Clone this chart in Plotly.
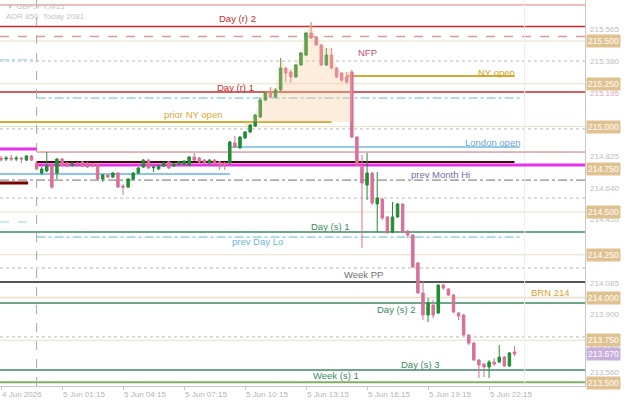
import plotly.graph_objects as go
from datetime import datetime, timedelta

# ---------------- data ----------------
start_time = datetime(2026, 6, 4, 22, 15)

opens = [214.816, 214.810, 214.816, 214.810, 214.816, 214.804, 214.828, 214.787, 214.728, 214.740,
         214.775, 214.728, 214.810, 214.787, 214.775, 214.787, 214.793, 214.787, 214.781, 214.775,
         214.693, 214.717, 214.705, 214.728, 214.652, 214.646, 214.693, 214.728, 214.763, 214.804,
         214.758, 214.752, 214.769, 214.793, 214.769, 214.781, 214.781, 214.775, 214.822, 214.816,
         214.804, 214.787, 214.804, 214.793, 214.787, 214.787, 214.904, 214.875, 214.933, 214.968,
         215.003, 215.056, 215.155, 215.196, 215.173, 215.214, 215.342, 215.319, 215.290, 215.360,
         215.418, 215.547, 215.524, 215.477, 215.360, 215.418, 215.342, 215.313, 215.290, 215.319,
         214.939, 214.763, 214.658, 214.728, 214.547, 214.576, 214.471, 214.383, 214.471, 214.547,
         214.389, 214.366, 214.202, 214.027, 213.898, 213.956, 213.910, 214.073, 214.050, 214.015,
         213.910, 213.898, 213.781, 213.734, 213.635, 213.611, 213.594, 213.623, 213.623, 213.652,
         213.600, 213.682]
closes = [214.804, 214.816, 214.810, 214.816, 214.810, 214.828, 214.804, 214.752, 214.752, 214.769,
          214.646, 214.810, 214.775, 214.769, 214.781, 214.781, 214.769, 214.763, 214.769, 214.693,
          214.717, 214.705, 214.728, 214.646, 214.646, 214.693, 214.728, 214.758, 214.804, 214.758,
          214.763, 214.769, 214.787, 214.758, 214.781, 214.793, 214.798, 214.822, 214.804, 214.793,
          214.787, 214.804, 214.781, 214.769, 214.775, 214.910, 214.880, 214.939, 214.968, 215.009,
          215.067, 215.155, 215.196, 215.173, 215.214, 215.342, 215.313, 215.290, 215.360, 215.430,
          215.547, 215.518, 215.477, 215.360, 215.418, 215.342, 215.290, 215.272, 215.260, 214.939,
          214.775, 214.670, 214.728, 214.553, 214.582, 214.465, 214.383, 214.471, 214.547, 214.383,
          214.366, 214.179, 214.027, 213.898, 213.968, 213.898, 214.073, 214.056, 214.015, 213.915,
          213.892, 213.781, 213.734, 213.635, 213.606, 213.594, 213.623, 213.611, 213.652, 213.600,
          213.676, 213.670]
highs = [214.828, 214.828, 214.834, 214.828, 214.822, 214.834, 214.834, 214.798, 214.763, 214.851,
         214.787, 214.816, 214.816, 214.793, 214.793, 214.793, 214.798, 214.793, 214.787, 214.781,
         214.722, 214.722, 214.734, 214.734, 214.664, 214.699, 214.734, 214.763, 214.810, 214.810,
         214.769, 214.775, 214.793, 214.798, 214.787, 214.798, 214.804, 214.828, 214.845, 214.822,
         214.810, 214.810, 214.810, 214.798, 214.793, 214.915, 214.945, 214.945, 214.974, 215.015,
         215.073, 215.167, 215.202, 215.231, 215.225, 215.401, 215.348, 215.331, 215.366, 215.436,
         215.553, 215.611, 215.529, 215.483, 215.459, 215.459, 215.348, 215.319, 215.319, 215.331,
         214.945, 214.834, 214.845, 214.734, 214.734, 214.582, 214.477, 214.559, 214.553, 214.553,
         214.395, 214.372, 214.208, 214.097, 213.997, 213.986, 214.079, 214.079, 214.056, 214.021,
         213.915, 213.904, 213.787, 213.740, 213.641, 213.617, 213.635, 213.646, 213.722, 213.658,
         213.682, 213.717]
lows = [214.798, 214.798, 214.798, 214.798, 214.787, 214.798, 214.798, 214.746, 214.717, 214.734,
        214.635, 214.693, 214.769, 214.763, 214.763, 214.775, 214.763, 214.758, 214.763, 214.687,
        214.676, 214.699, 214.699, 214.641, 214.600, 214.641, 214.687, 214.722, 214.758, 214.752,
        214.734, 214.746, 214.763, 214.752, 214.763, 214.775, 214.775, 214.769, 214.798, 214.787,
        214.781, 214.781, 214.775, 214.746, 214.746, 214.781, 214.875, 214.869, 214.927, 214.962,
        214.997, 215.050, 215.149, 215.167, 215.167, 215.208, 215.260, 215.255, 215.284, 215.354,
        215.413, 215.512, 215.471, 215.354, 215.354, 215.336, 215.284, 215.260, 215.249, 214.933,
        214.769, 214.290, 214.570, 214.541, 214.383, 214.453, 214.372, 214.377, 214.465, 214.377,
        214.348, 214.173, 214.021, 213.869, 213.857, 213.880, 213.904, 214.044, 214.009, 213.910,
        213.869, 213.775, 213.722, 213.629, 213.530, 213.535, 213.530, 213.600, 213.617, 213.594,
        213.594, 213.658]

times = [start_time + timedelta(minutes=15 * i) for i in range(len(opens))]

# horizontal levels (name, price)
level_names = ["Day (r) 3", "Day (r) 2", "prev Week Hi", "215.500", "dotted 1", "left cyan 1",
               "NY open", "215.250", "Day (r) 1", "prev Day Hi", "prior NY open", "215.000",
               "dotted 2", "London open", "left magenta", "red thin", "maroon", "magenta",
               "left blue", "prev Month Hi", "left maroon", "dotted 3", "214.500", "left cyan 2",
               "Day (s) 1", "prev Day Lo", "214.250", "dotted 4", "Week PP", "BRN 214",
               "Day (s) 2", "dotted 5", "213.750", "Day (s) 3", "Week (s) 1"]
level_prices = [215.711, 215.585, 215.527, 215.500, 215.383, 215.390,
                215.296, 215.250, 215.202, 215.167, 215.026, 215.000,
                214.986, 214.880, 214.869, 214.851, 214.793, 214.775,
                214.722, 214.687, 214.670, 214.582, 214.500, 214.442,
                214.383, 214.354, 214.250, 214.173, 214.091, 214.000,
                213.968, 213.770, 213.750, 213.576, 213.505]

# right axis labels
plain_axis_values = [215.565, 215.380, 215.195, 214.825, 214.640, 214.455, 214.270,
                     214.085, 213.900, 213.720, 213.560]
box_axis_values = [215.500, 215.250, 215.000, 214.750, 214.500, 214.250, 214.000, 213.750, 213.500]
current_price = 213.670

# x axis ticks
tick_times = ["2026-06-04 22:15", "2026-06-05 01:15", "2026-06-05 04:15", "2026-06-05 07:15",
              "2026-06-05 10:15", "2026-06-05 13:15", "2026-06-05 16:15", "2026-06-05 19:15",
              "2026-06-05 22:15"]
tick_labels = ["4 Jun 2026", "5 Jun 01:15", "5 Jun 04:15", "5 Jun 07:15", "5 Jun 10:15",
               "5 Jun 13:15", "5 Jun 16:15", "5 Jun 19:15", "5 Jun 22:15"]

# ---------------- styles ----------------
X_START = "2026-06-04 22:12"
X_END = "2026-06-06 02:58"
D0 = "2026-06-05 00:00"
# color, width, dash, x0, x1  (None => plot edge)
level_styles = {
    "Day (r) 3": ("#e07a7a", 1, "solid", None, None),
    "Day (r) 2": ("#cc2a2a", 1.5, "solid", None, None),
    "prev Week Hi": ("#d99a9a", 1.5, "dash", None, None),
    "215.500": ("#eadfc6", 1, "solid", None, None),
    "dotted 1": ("#b8b8b8", 1, "dot", None, None),
    "left cyan 1": ("#8fd3e6", 1, "dashdot", None, D0),
    "NY open": ("#d4aa35", 2, "solid", "2026-06-05 15:15", "2026-06-05 23:30"),
    "215.250": ("#eadfc6", 1, "solid", None, None),
    "Day (r) 1": ("#cc2a2a", 1.5, "solid", None, None),
    "prev Day Hi": ("#63b8c8", 1, "dashdot", D0, "2026-06-05 23:45"),
    "prior NY open": ("#d4aa35", 2, "solid", None, "2026-06-05 14:30"),
    "215.000": ("#eadfc6", 1, "solid", None, None),
    "dotted 2": ("#b8b8b8", 1, "dot", None, None),
    "London open": ("#93cbe8", 2, "solid", "2026-06-05 09:30", "2026-06-05 23:45"),
    "left magenta": ("#e633e6", 3, "solid", None, D0),
    "red thin": ("#d26a6a", 1, "solid", D0, None),
    "maroon": ("#4a0808", 2, "solid", D0, "2026-06-05 23:30"),
    "magenta": ("#e633e6", 3, "solid", D0, None),
    "left blue": ("#8cc6e6", 2, "solid", None, "2026-06-05 09:30"),
    "prev Month Hi": ("#707070", 1, "dashdot", None, None),
    "left maroon": ("#7a0000", 3, "solid", None, "2026-06-04 23:35"),
    "dotted 3": ("#b8b8b8", 1, "dot", None, None),
    "214.500": ("#eadfc6", 1, "solid", None, None),
    "left cyan 2": ("#8fd3e6", 1, "dash", None, D0),
    "Day (s) 1": ("#3a8a62", 1.5, "solid", None, None),
    "prev Day Lo": ("#63b8c8", 1, "dashdot", D0, "2026-06-05 23:45"),
    "214.250": ("#eadfc6", 1, "solid", None, None),
    "dotted 4": ("#b8b8b8", 1, "dot", None, None),
    "Week PP": ("#555555", 2, "solid", None, None),
    "BRN 214": ("#eadfc6", 1.5, "solid", None, None),
    "Day (s) 2": ("#3a8a62", 1.5, "solid", None, None),
    "dotted 5": ("#b8b8b8", 1, "dot", None, None),
    "213.750": ("#eadfc6", 1, "solid", None, None),
    "Day (s) 3": ("#3a8a62", 1.5, "solid", None, None),
    "Week (s) 1": ("#7fb060", 2, "solid", None, None),
}

PLOT_W, PLOT_H = 585, 386
FONT = "Liberation Sans, Arial, sans-serif"

fig = go.Figure()

# NFP shaded area (under candle highs of the rally)
fill_x = times[48:70] + [times[69], times[48]]
fill_y = highs[48:70] + [215.026, 215.026]
fig.add_trace(go.Scatter(x=fill_x, y=fill_y, fill="toself", mode="lines",
                         line=dict(width=0), fillcolor="rgba(250,200,150,0.32)",
                         hoverinfo="skip", showlegend=False))

fig.add_trace(go.Candlestick(
    x=times, open=opens, high=highs, low=lows, close=closes,
    increasing=dict(line=dict(color="#1e8f34", width=1), fillcolor="#1e8f34"),
    decreasing=dict(line=dict(color="#d8709a", width=1), fillcolor="#d8709a"),
    whiskerwidth=0, showlegend=False))

shapes = []
for name, price in zip(level_names, level_prices):
    color, width, dash, x0, x1 = level_styles[name]
    if x0 is None and x1 is None:
        shapes.append(dict(type="line", xref="paper", yref="y", x0=0, x1=1, y0=price, y1=price,
                           line=dict(color=color, width=width, dash=dash), layer="below"))
    else:
        shapes.append(dict(type="line", xref="x", yref="y",
                           x0=x0 if x0 else X_START, x1=x1 if x1 else X_END,
                           y0=price, y1=price,
                           line=dict(color=color, width=width, dash=dash), layer="below"))

# day separators
shapes.append(dict(type="line", xref="x", yref="paper", x0=D0, x1=D0, y0=0, y1=1,
                   line=dict(color="#a8a8a8", width=1, dash="dash"), layer="below"))
shapes.append(dict(type="line", xref="x", yref="paper", x0="2026-06-06 00:00", x1="2026-06-06 00:00",
                   y0=0, y1=1, line=dict(color="#ececec", width=1), layer="below"))

annotations = []
# in-chart labels: text, x px, y px, color
chart_labels = [
    ("Day (r) 2", 237, 19, "#cc2a2a"),
    ("NFP", 367, 52, "#c0507a"),
    ("NY open", 496, 72, "#d4a020"),
    ("Day (r) 1", 235, 87, "#cc2a2a"),
    ("prior NY open", 193, 115, "#d4aa35"),
    ("London open", 492, 142, "#6aa6d6"),
    ("prev Month Hi", 440, 174, "#7070a8"),
    ("Day (s) 1", 330, 226, "#3a8a62"),
    ("prev Day Lo", 257, 241, "#6ab8dc"),
    ("Week PP", 363, 274, "#707070"),
    ("BRN 214", 550, 292, "#e0a030"),
    ("Day (s) 2", 396, 309, "#3a8a62"),
    ("Day (s) 3", 420, 364, "#3a8a62"),
    ("Week (s) 1", 336, 375, "#3a8a62"),
]
for text, px, py, color in chart_labels:
    annotations.append(dict(text=text, xref="paper", yref="paper", x=px / PLOT_W, y=1 - py / PLOT_H,
                            xanchor="center", yanchor="middle", showarrow=False,
                            font=dict(family=FONT, size=9.5, color=color)))

# header text
annotations.append(dict(text="▼ GBPJPY,M15", xref="paper", yref="paper", x=4 / PLOT_W, y=1 - 6 / PLOT_H,
                        xanchor="left", yanchor="middle", showarrow=False,
                        font=dict(family=FONT, size=8, color="#c4c4c4")))
annotations.append(dict(text="ADR 850  Today 2081", xref="paper", yref="paper", x=4 / PLOT_W,
                        y=1 - 16 / PLOT_H, xanchor="left", yanchor="middle", showarrow=False,
                        font=dict(family=FONT, size=8, color="#c4c4c4")))

# right axis labels
for v in plain_axis_values:
    col = "#d8a8c8" if abs(v - 215.195) < 1e-6 else "#bdbdbd"
    annotations.append(dict(text=f"{v:.3f}", xref="paper", yref="y", x=1, y=v, xanchor="left",
                            yanchor="middle", xshift=3, showarrow=False,
                            font=dict(family=FONT, size=8, color=col)))
for v in box_axis_values:
    annotations.append(dict(text=f"{v:.3f}", xref="paper", yref="y", x=1, y=v, xanchor="left",
                            yanchor="middle", xshift=1, showarrow=False, bgcolor="#dfc290",
                            borderpad=1, font=dict(family=FONT, size=8.5, color="#ffffff")))
annotations.append(dict(text=f"{current_price:.3f}", xref="paper", yref="y", x=1, y=current_price,
                        xanchor="left", yanchor="middle", xshift=1, showarrow=False, bgcolor="#c8b0dc",
                        borderpad=1, font=dict(family=FONT, size=8.5, color="#ffffff")))

fig.update_layout(
    width=625, height=403,
    margin=dict(l=0, r=40, t=0, b=17, autoexpand=False),
    paper_bgcolor="white", plot_bgcolor="white",
    shapes=shapes, annotations=annotations,
    showlegend=False,
    xaxis=dict(type="date", range=[X_START, X_END], rangeslider=dict(visible=False),
               showgrid=False, zeroline=False, showline=True, linecolor="#c8c8c8", linewidth=1,
               tickvals=tick_times, ticktext=tick_labels, ticks="outside", ticklen=3,
               tickcolor="#c8c8c8", ticklabelposition="outside right",
               tickfont=dict(family=FONT, size=8, color="#b4b4b4")),
    yaxis=dict(range=[213.483, 215.740], side="right", showgrid=False, zeroline=False,
               showline=True, linecolor="#c8c8c8", linewidth=1, showticklabels=False, ticks=""),
)

fig.write_html("out.html", config={"displayModeBar": False},
               post_script="document.body.style.margin='0';document.body.style.overflow='hidden';")
